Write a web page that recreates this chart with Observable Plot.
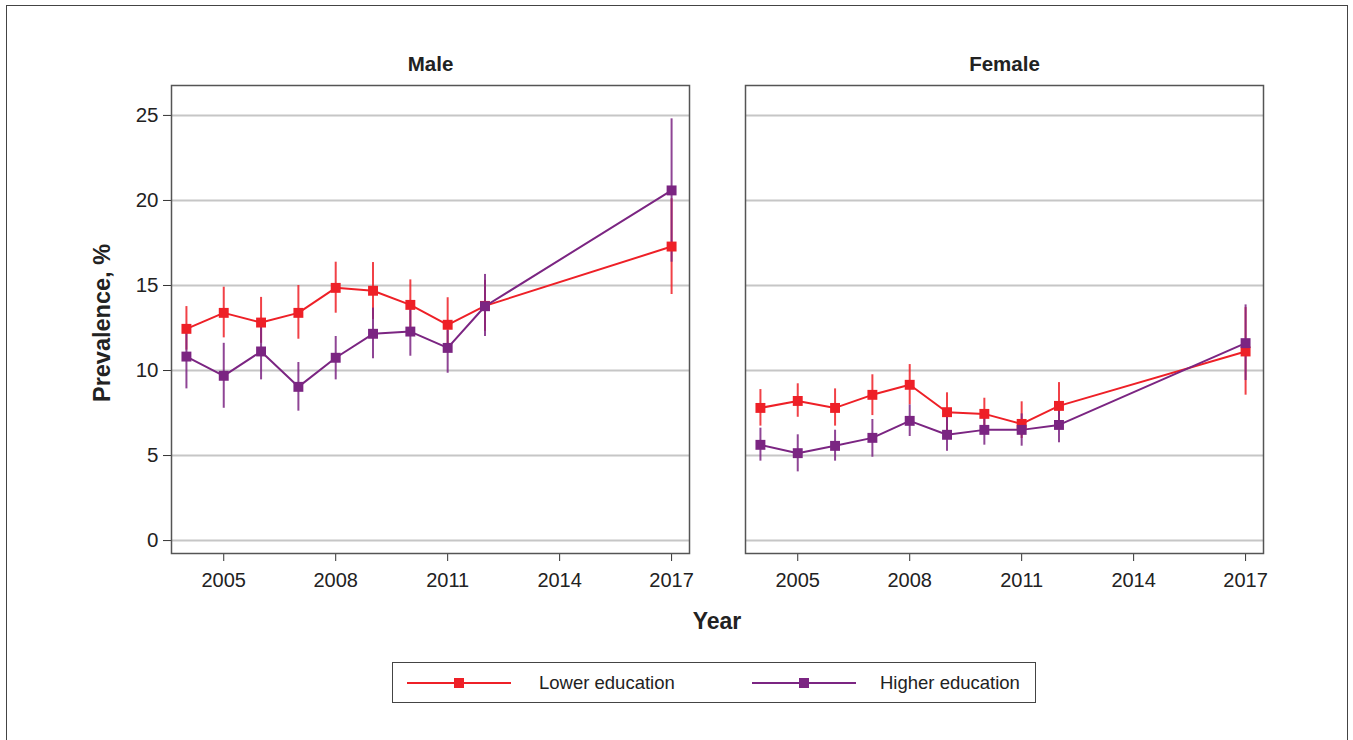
<!DOCTYPE html>
<html>
<head>
<meta charset="utf-8">
<script src="https://cdn.jsdelivr.net/npm/d3@7"></script>
<script src="https://cdn.jsdelivr.net/npm/@observablehq/plot@0.6"></script>
<style>
  html, body { margin: 0; padding: 0; background: #fff; overflow: hidden; }
  body { width: 1353px; height: 740px; position: relative; font-family: "Liberation Sans", Arial, sans-serif; color: #222; }
  #outer { position: absolute; left: 6px; top: 5px; width: 1342px; height: 800px; border: 1.5px solid #444; box-sizing: border-box; }
  #chart { position: absolute; left: 0; top: 0; }
  .title { position: absolute; font-weight: bold; font-size: 23px; color: #222; white-space: nowrap; }
  #ytitle { left: 102px; top: 323px; font-size: 23.5px; transform: translate(-50%, -50%) rotate(-90deg); }
  #xtitle { left: 717px; top: 621px; transform: translate(-50%, -50%); }
  #legend { position: absolute; left: 392px; top: 662px; width: 644px; height: 41px; border: 1.5px solid #444; box-sizing: border-box; }
  .item { position: absolute; top: 0; height: 39px; display: flex; align-items: center; font-size: 18.5px; color: #222; }
</style>
</head>
<body>
<div id="outer"></div>
<div id="chart"></div>
<div id="ytitle" class="title">Prevalence, %</div>
<div id="xtitle" class="title">Year</div>
<div id="legend"></div>
<script>
const years = [2004, 2005, 2006, 2007, 2008, 2009, 2010, 2011, 2012, 2017];
const sexes = ["Male", "Female"];
const groups = ["Lower education", "Higher education"];
const colors = ["#ee2027", "#7b2582"];

// Male
const maleLower    = [12.45, 13.39, 12.82, 13.39, 14.86, 14.69, 13.86, 12.69, 13.8, 17.29];
const maleLowerLo  = [11.2, 11.92, 11.6, 11.84, 13.37, 13.0, 12.4, 11.1, 12.3, 14.47];
const maleLowerHi  = [13.76, 14.9, 14.3, 15.0, 16.37, 16.35, 15.33, 14.28, 15.3, 20.1];
const maleHigher   = [10.82, 9.69, 11.12, 9.04, 10.75, 12.16, 12.29, 11.33, 13.78, 20.59];
const maleHigherLo = [8.92, 7.78, 9.45, 7.61, 9.45, 10.69, 10.84, 9.84, 12.0, 16.37];
const maleHigherHi = [12.7, 11.6, 12.75, 10.47, 12.0, 13.67, 13.8, 12.35, 15.65, 24.8];

// Female
const femaleLower    = [7.8, 8.21, 7.8, 8.57, 9.16, 7.55, 7.45, 6.86, 7.92, 11.12];
const femaleLowerLo  = [6.73, 7.25, 6.73, 7.35, 7.98, 6.4, 6.47, 6.0, 6.6, 8.55];
const femaleLowerHi  = [8.88, 9.22, 8.92, 9.75, 10.35, 8.69, 8.37, 8.16, 9.29, 13.7];
const femaleHigher   = [5.63, 5.14, 5.57, 6.04, 7.04, 6.22, 6.51, 6.51, 6.8, 11.61];
const femaleHigherLo = [4.67, 4.04, 4.67, 4.9, 6.12, 5.25, 5.61, 5.55, 5.75, 9.41];
const femaleHigherHi = [6.61, 6.22, 6.49, 7.12, 7.98, 7.25, 7.45, 7.45, 7.84, 13.86];

const yTicks = [0, 5, 10, 15, 20, 25];
const xTicks = [2005, 2008, 2011, 2014, 2017];

const series = [
  ["Male", groups[0], maleLower, maleLowerLo, maleLowerHi],
  ["Male", groups[1], maleHigher, maleHigherLo, maleHigherHi],
  ["Female", groups[0], femaleLower, femaleLowerLo, femaleLowerHi],
  ["Female", groups[1], femaleHigher, femaleHigherLo, femaleHigherHi]
];
const rows = [];
for (const [sex, edu, v, lo, hi] of series) {
  years.forEach((yr, i) => rows.push({sex, edu, year: yr, v: v[i], lo: lo[i], hi: hi[i]}));
}
const byEdu = e => rows.filter(d => d.edu === e);

const marks = [
  Plot.gridY(yTicks, {stroke: "#c6c6c6", strokeOpacity: 1, strokeWidth: 2}),
  Plot.axisY(yTicks, {tickSize: 8, tickPadding: 5, fontSize: 20.5, stroke: "#333", fill: "#222", label: null}),
  Plot.axisX(xTicks, {tickSize: 8, tickPadding: 11, fontSize: 20, stroke: "#333", fill: "#222", label: null, tickFormat: d => String(d)}),
  Plot.axisFx({anchor: "top", tickSize: 0, tickPadding: 15, fontSize: 20.5, fontWeight: "bold", fill: "#222", label: null})
];
groups.forEach((g, i) => {
  marks.push(Plot.ruleX(byEdu(g), {fx: "sex", x: "year", y1: "lo", y2: "hi", stroke: colors[i], strokeWidth: 2, strokeOpacity: 0.85}));
});
groups.forEach((g, i) => {
  marks.push(Plot.line(byEdu(g), {fx: "sex", x: "year", y: "v", stroke: colors[i], strokeWidth: 2}));
});
groups.forEach((g, i) => {
  marks.push(Plot.dot(byEdu(g), {fx: "sex", x: "year", y: "v", symbol: "square", r: 5.6, fill: colors[i], stroke: "none"}));
});
marks.push(Plot.frame({stroke: "#555", strokeWidth: 1.5}));

const chart = Plot.plot({
  width: 1353,
  height: 600,
  marginTop: 85,
  marginBottom: 47,
  marginLeft: 171,
  marginRight: 90,
  style: {background: "transparent", fontFamily: "'Liberation Sans', Arial, sans-serif"},
  fx: {domain: sexes, paddingInner: 0.0976, paddingOuter: 0},
  x: {domain: [2003.6, 2017.48]},
  y: {domain: [-0.76, 26.76]},
  marks
});
document.getElementById("chart").appendChild(chart);

// Legend
const legend = document.getElementById("legend");
const legendPos = [{line: 14, text: 146}, {line: 359, text: 487}];
groups.forEach((g, i) => {
  const item = document.createElement("div");
  item.className = "item";
  item.style.left = legendPos[i].line + "px";
  const sw = d3.create("svg").attr("width", 104).attr("height", 14);
  sw.append("line").attr("x1", 0).attr("x2", 104).attr("y1", 7).attr("y2", 7).attr("stroke", colors[i]).attr("stroke-width", 2);
  sw.append("rect").attr("x", 47).attr("y", 2).attr("width", 10).attr("height", 10).attr("fill", colors[i]);
  item.appendChild(sw.node());
  const t = document.createElement("span");
  t.textContent = g;
  t.style.marginLeft = (legendPos[i].text - legendPos[i].line - 104) + "px";
  item.appendChild(t);
  legend.appendChild(item);
});
</script>
</body>
</html>
